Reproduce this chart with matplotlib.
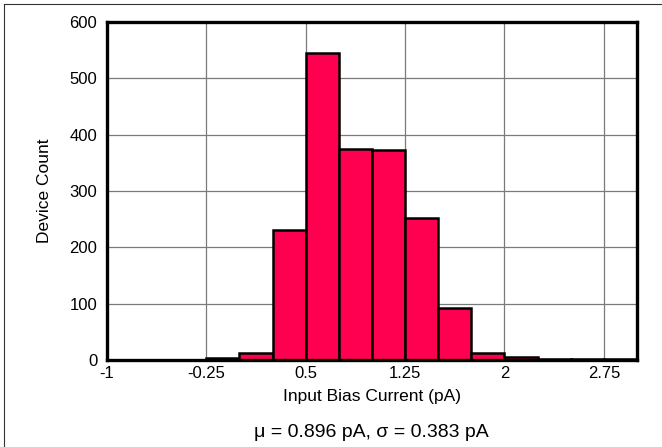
import matplotlib
matplotlib.use("Agg")
import matplotlib.pyplot as plt
from matplotlib.lines import Line2D
import numpy as np

plt.rcParams['font.family'] = ['Liberation Sans', 'DejaVu Sans']

bin_edges = [-1, -0.75, -0.5, -0.25, 0, 0.25, 0.5, 0.75, 1.0, 1.25, 1.5, 1.75, 2.0, 2.25, 2.5, 2.75, 3.0]
counts = [0, 0, 0, 4, 13, 231, 545, 375, 372, 252, 92, 13, 5, 2, 1, 1]
xticks = [-1, -0.25, 0.5, 1.25, 2, 2.75]
xtick_labels = ['-1', '-0.25', '0.5', '1.25', '2', '2.75']
yticks = [0, 100, 200, 300, 400, 500, 600]

fig = plt.figure(figsize=(6.62, 4.47), dpi=100)
ax = fig.add_axes([0.1616, 0.1946, 0.8006, 0.7562])

ax.hist(bin_edges[:-1], bins=bin_edges, weights=counts, color='#FF0050',
        edgecolor='black', linewidth=1.8, zorder=3)

ax.set_xlim(-1, 3)
ax.set_ylim(0, 600)
ax.set_xticks(xticks)
ax.set_xticklabels(xtick_labels)
ax.set_yticks(yticks)
ax.tick_params(axis='both', length=0, labelsize=12, colors='black')
ax.tick_params(axis='x', pad=4)
ax.tick_params(axis='y', pad=7)
ax.grid(True, color='#7a7a7a', linewidth=0.9, zorder=0)
ax.set_axisbelow(True)
for s in ax.spines.values():
    s.set_linewidth(2.4)
    s.set_color('black')
    s.set_zorder(5)

ax.set_xlabel('Input Bias Current (pA)', fontsize=12.5, labelpad=6)
ax.set_ylabel('Device Count', fontsize=12.5)
ax.yaxis.set_label_coords(-0.103, 0.5)

fig.text(0.5616, 0.033, 'μ = 0.896 pA, σ = 0.383 pA', ha='center', va='center', fontsize=14)

# figure border (top and left)
fig.add_artist(Line2D([4/662, 1], [1 - 4/447, 1 - 4/447], color='#333333', linewidth=0.8, transform=fig.transFigure))
fig.add_artist(Line2D([4/662, 4/662], [0, 1 - 4/447], color='#333333', linewidth=0.8, transform=fig.transFigure))

fig.savefig('out.png', dpi=100)
